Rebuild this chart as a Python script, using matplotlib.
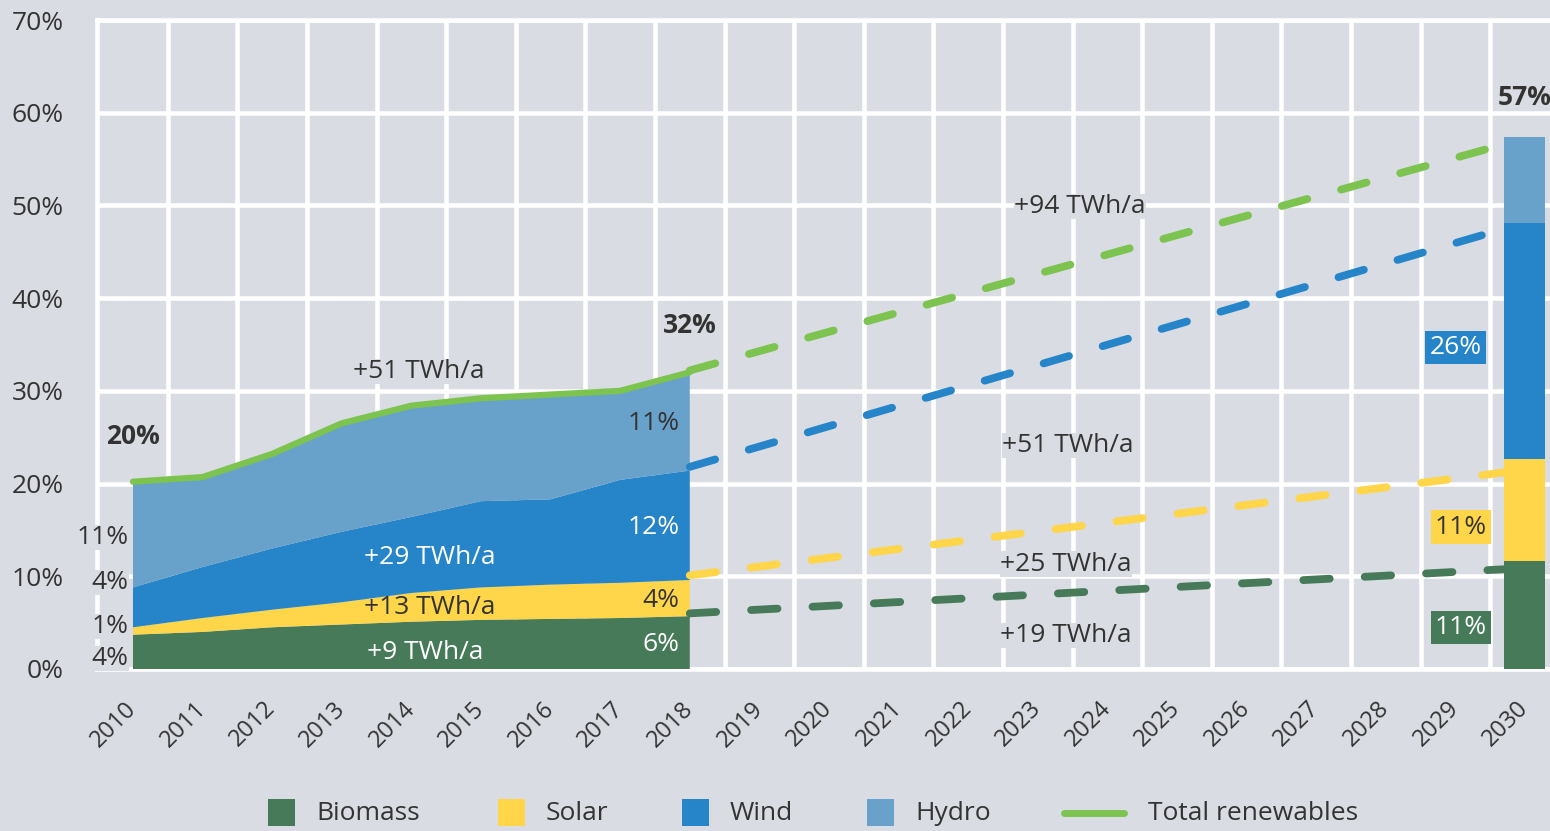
import numpy as np
import matplotlib
matplotlib.use('Agg')
import matplotlib.pyplot as plt
from matplotlib.patches import Rectangle
from matplotlib.lines import Line2D

plt.rcParams['font.family'] = ['Open Sans', 'DejaVu Sans']

## Data (share of electricity, %)

years = list(range(2010, 2031))
hist_years = list(range(2010, 2019))
biomass = [3.7, 4.0, 4.5, 4.8, 5.1, 5.3, 5.4, 5.5, 5.7]
solar = [0.8, 1.5, 1.9, 2.4, 3.1, 3.5, 3.7, 3.8, 3.9]
wind = [4.3, 5.5, 6.6, 7.6, 8.2, 9.3, 9.2, 11.1, 11.8]
hydro = [11.4, 9.7, 10.2, 11.7, 12.0, 11.1, 11.3, 9.6, 10.6]

bar_year = 2030
bar_values = [11.6, 11.0, 25.5, 9.3]   # biomass, solar, wind, hydro

trend_years = [2018, 2029.8]
trend_biomass = [6.0, 10.8]
trend_solar = [10.1, 21.3]
trend_wind = [21.8, 47.7]
trend_total = [32.2, 56.8]

names = ['Biomass', 'Solar', 'Wind', 'Hydro']
colors = ['#467a58', '#ffd54a', '#2585c8', '#68a1ca']
green = '#7cc350'
bg = '#d9dce3'
txt = '#333333'
fs = 19

## plot

fig = plt.figure(figsize=(15.5, 8.31), dpi=100, facecolor=bg)
ax = fig.add_axes([97/1550, 162/831, 1 - 97/1550, 649/831])
ax.set_facecolor(bg)

x0 = years[0]
hx = np.array(hist_years) - x0
ax.stackplot(hx, biomass, solar, wind, hydro, colors=colors, zorder=2, linewidth=0)

total = np.array(biomass) + np.array(solar) + np.array(wind) + np.array(hydro)
ax.plot(hx, total, color=green, lw=4.5, solid_capstyle='round', zorder=5)

# 2030 target bar
bottom = 0
for v, c in zip(bar_values, colors):
    ax.bar(bar_year - x0, v, bottom=bottom, width=0.59, color=c, zorder=3)
    bottom += v

# dashed trends
tx = np.array(trend_years) - x0
for vals, c, z in [(trend_biomass, colors[0], 2.5), (trend_solar, colors[1], 2.5),
                   (trend_wind, colors[2], 2.5), (trend_total, green, 6)]:
    ax.plot(tx, vals, color=c, lw=5.6, dashes=(3.4, 4.5), dash_capstyle='round', zorder=z)

# axes styling
ax.set_xlim(-0.517, 20.36)
ax.set_ylim(0, 70)
ax.set_yticks(range(0, 71, 10))
ax.set_yticklabels([str(v) + '%' for v in range(0, 71, 10)])
ax.set_xticks(range(len(years)))
ax.set_xticklabels([str(y) for y in years])
ax.set_xticks(np.arange(0.5, 20, 1), minor=True)
ax.tick_params(axis='y', length=0, pad=24, labelsize=fs, labelcolor=txt)
ax.tick_params(axis='x', which='major', length=0, pad=26, labelsize=17, labelcolor=txt)
ax.tick_params(axis='x', which='minor', length=0)
plt.setp(ax.get_xticklabels(), rotation=45, ha='right', va='center', rotation_mode='anchor')
ax.grid(axis='y', which='major', color='white', lw=3.3)
ax.grid(axis='x', which='minor', color='white', lw=3.3)
ax.grid(axis='x', which='major', visible=False)
ax.set_axisbelow(True)
for s in ['left', 'bottom', 'top']:
    ax.spines[s].set_color('white')
    ax.spines[s].set_linewidth(3.3)
    ax.spines[s].set_zorder(1)
ax.spines['right'].set_visible(False)

def label(x, y, s, color=txt, ha='center', weight='normal', box=bg, pad=0.1):
    ax.text(x, y, s, color=color, ha=ha, va='center', fontsize=fs, fontweight=weight,
            zorder=8, bbox=dict(facecolor=box, edgecolor='none', pad=pad) if box else None)

# totals
label(0, 25.1, '20%', weight='bold', box=None)
label(8, 37.1, '32%', weight='bold', box=None)
label(20, 61.6, '57%', weight='bold', box=None)

# left shares 2010
for y, s in [(14.2, '11%'), (9.3, '4%'), (4.6, '1%'), (1.1, '4%')]:
    label(-0.06, y, s, ha='right', pad=0.05)

# shares 2018
label(7.85, 26.5, '11%', ha='right', box=None)
label(7.85, 15.3, '12%', color='white', ha='right', box=None)
label(7.85, 7.4, '4%', ha='right', box=None)
label(7.85, 2.6, '6%', color='white', ha='right', box=None)

# growth 2010-2018
label(4.1, 32.1, '+51 TWh/a')
label(4.27, 12.0, '+29 TWh/a', color='white', box=None)
label(4.27, 6.6, '+13 TWh/a', box=None)
label(4.2, 1.8, '+9 TWh/a', color='white', box=None)

# growth 2018-2030
label(13.6, 49.9, '+94 TWh/a')
label(13.43, 24.1, '+51 TWh/a')
label(13.4, 11.3, '+25 TWh/a')
label(13.4, 3.6, '+19 TWh/a')

# 2030 shares
label(19.0, 34.7, '26%', color='white', box=colors[2], pad=3)
label(19.08, 15.3, '11%', box=colors[1], pad=3)
label(19.08, 4.5, '11%', color='white', box=colors[0], pad=3)

# legend
W, H = 1550., 831.
legend_x = [268, 498, 682, 867]
for lx, n, c in zip(legend_x, names, colors):
    fig.add_artist(Rectangle((lx/W, 5/H), 27/W, 27/H, transform=fig.transFigure,
                             facecolor=c, edgecolor='none'))
    fig.text((lx + 48)/W, 18/H, n, fontsize=fs, color=txt, va='center', ha='left')
fig.add_artist(Line2D([1064/W, 1124/W], [18/H, 18/H], transform=fig.transFigure,
                      color=green, lw=5, solid_capstyle='round'))
fig.text(1148/W, 18/H, 'Total renewables', fontsize=fs, color=txt, va='center', ha='left')

plt.savefig('out.png', dpi=100, facecolor=bg)
